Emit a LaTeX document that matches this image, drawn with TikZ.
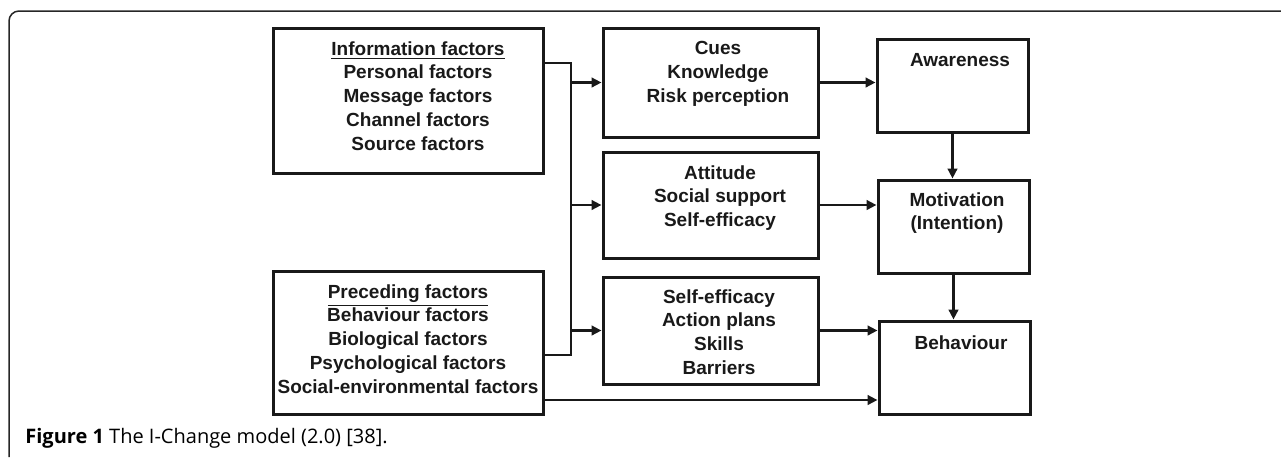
\documentclass[tikz,border=0pt]{standalone}
\usepackage{fontspec}
\setmainfont{Liberation Sans}
\newfontfamily\capfont{Open Sans}
\usetikzlibrary{arrows.meta}

\begin{document}
\begin{tikzpicture}[x=0.5pt,y=-0.5pt,
	boite/.style={draw=black!90,line width=1.5pt,inner sep=0pt},
	texte/.style={align=center,inner sep=0pt,anchor=north,text=black!90,font=\bfseries\fontsize{9.5}{11.9}\selectfont},
	fleche/.style={draw=black!90,line width=1.4pt,-{Triangle[length=5pt,width=4.8pt]}},
	trait/.style={draw=black!90,line width=1.4pt}]
  \useasboundingbox (0,0) rectangle (1281,457);
  \draw[line width=0.75pt,black!85,rounded corners=5pt] (9,457) -- (9,11) -- (1281,11);

  \node[boite,minimum width=135pt,minimum height=72.5pt] (info) at (408,100.5) {};
	\node[texte] (infot) at (418,41) {\underline{Information factors}\\Personal factors\\Message factors\\Channel factors\\Source factors};
  \node[boite,minimum width=135pt,minimum height=71.5pt] (prec) at (408,342.5) {};
	\node[texte] (prect) at (408,284) {\underline{Preceding factors}\\Behaviour factors\\Biological factors\\Psychological factors\\Social-environmental factors};

  \node[boite,minimum width=107.5pt,minimum height=54.5pt] (cues) at (710.5,82.5) {};
	\node[texte] (cuest) at (718,41) {Cues\\Knowledge\\Risk perception};
  \node[boite,minimum width=107.5pt,minimum height=53pt] (att) at (710.5,205) {};
	\node[texte] (attt) at (720,165) {Attitude\\Social support\\Self-efficacy};
  \node[boite,minimum width=107.5pt,minimum height=53.5pt] (self) at (710.5,330.5) {};
	\node[texte] (selft) at (719,289) {Self-efficacy\\Action plans\\Skills\\Barriers};

  \node[boite,minimum width=75.5pt,minimum height=46.5pt] (aware) at (952.5,85.5) {};
	\node[texte] (awaret) at (960,53) {Awareness};
  \node[boite,minimum width=75.5pt,minimum height=46.5pt] (motiv) at (953.5,226.5) {};
	\node[texte] (motivt) at (957,192) {Motivation\\(Intention)};
  \node[boite,minimum width=75.5pt,minimum height=46.5pt] (behav) at (954.5,367.5) {};
	\node[texte] (behavt) at (961,335) {Behaviour};

	\coordinate (haut) at (571,63);
	\coordinate (bas) at (571,355);
	\coordinate (ligne) at (543,400);
	\draw[trait] (info.east |- haut) -- (haut) -- (bas) -- (prec.east |- bas);
	\draw[fleche] (haut |- cues.west) -- (cues.west);
	\draw[fleche] (haut |- att.west) -- (att.west);
	\draw[fleche] (haut |- self.west) -- (self.west);
	\draw[fleche] (cues.east) -- (cues.east -| aware.west);
	\draw[fleche] (att.east) -- (att.east -| motiv.west);
	\draw[fleche] (self.east) -- (self.east -| behav.west);
	\draw[fleche] (aware.south) -- (aware.south |- motiv.north);
	\draw[fleche] (motiv.south) -- (motiv.south |- behav.north);
	\draw[fleche] (prec.east |- ligne) -- (ligne -| behav.west);

	\node[anchor=base west,inner sep=0pt,font=\capfont\fontsize{10}{12}\selectfont] (legende) at (25,443) {\textbf{Figure 1} The I-Change model (2.0) [38].};
\end{tikzpicture}
\end{document}
